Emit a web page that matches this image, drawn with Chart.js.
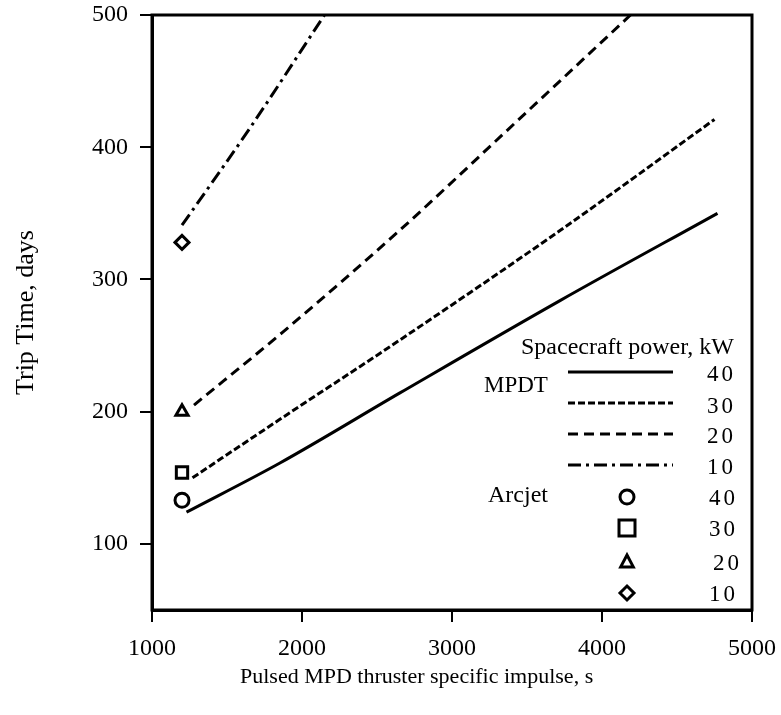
<!DOCTYPE html>
<html>
<head>
<meta charset="utf-8">
<style>
  body { margin: 0; background: #fff; }
</style>
</head>
<body>
<canvas id="myChart" width="781" height="715"></canvas>
<script src="https://cdn.jsdelivr.net/npm/chart.js"></script>
<script>
    // values
    const xTicks = [1000, 2000, 3000, 4000, 5000];
    const yTicks = [100, 200, 300, 400, 500];

    const isp40 = [1230, 1850, 2650, 3720, 4770];
    const days40 = [124, 161, 214, 284, 350];
    const isp30 = [1270, 1850, 2650, 3720, 4750];
    const days30 = [150, 194, 254, 337, 421];
    const isp20 = [1280, 1870, 2650, 3370, 4190];
    const days20 = [205, 260, 337, 413, 500];
    const isp10 = [1200, 1650, 2150];
    const days10 = [341, 414, 500];

    const powers = [40, 30, 20, 10];
    const arcIsp = [1200, 1200, 1200, 1200];
    const arcDays = [133, 154, 200, 328];

    const dashes = [[], [7, 3], [10, 6], [13, 5, 3, 5]];
    const marks = ['circle', 'rect', 'triangle', 'rectRot'];
    const serif = "'Liberation Serif', 'Times New Roman', serif";

    function pts(xs, ys) {
        return xs.map((x, i) => ({x: x, y: ys[i]}));
    }

    const curves = [[isp40, days40], [isp30, days30], [isp20, days20], [isp10, days10]];
    let datasets = [];
    curves.forEach((c, i) => {
        datasets.push({
            label: 'MPDT ' + powers[i] + ' kW',
            data: pts(c[0], c[1]),
            showLine: true,
            borderColor: '#000',
            borderWidth: 3,
            borderDash: dashes[i],
            pointRadius: 0,
            cubicInterpolationMode: 'monotone'
        });
    });
    arcIsp.forEach((x, i) => {
        datasets.push({
            label: 'Arcjet ' + powers[i] + ' kW',
            data: [{x: x, y: arcDays[i]}],
            pointStyle: marks[i],
            pointRadius: i == 1 ? 8 : 7,
            borderWidth: 3,
            borderColor: '#000',
            backgroundColor: '#fff'
        });
    });

    function drawMark(ctx, style, x, y, r) {
        ctx.beginPath();
        if (style == 'circle') {
            ctx.arc(x, y, r, 0, Math.PI * 2);
        } else if (style == 'rect') {
            ctx.rect(x - r, y - r, 2 * r, 2 * r);
        } else if (style == 'triangle') {
            ctx.moveTo(x, y - r);
            ctx.lineTo(x + r * 0.9, y + r * 0.7);
            ctx.lineTo(x - r * 0.9, y + r * 0.7);
            ctx.closePath();
        } else {
            ctx.moveTo(x, y - r);
            ctx.lineTo(x + r, y);
            ctx.lineTo(x, y + r);
            ctx.lineTo(x - r, y);
            ctx.closePath();
        }
        ctx.stroke();
    }

    // no extra room for label overhang, the layout padding decides the box
    function noPad(s) {
        s.paddingTop = 0;
        s.paddingBottom = 0;
        s.paddingLeft = 0;
        s.paddingRight = 0;
    }

    const boxAndLegend = {
        id: 'boxAndLegend',
        afterDraw(chart) {
            const ctx = chart.ctx;
            const a = chart.chartArea;
            ctx.save();
            ctx.strokeStyle = '#000';
            ctx.lineWidth = 3;
            ctx.setLineDash([]);
            ctx.strokeRect(a.left, a.top, a.right - a.left, a.bottom - a.top);

            ctx.fillStyle = '#000';
            ctx.textBaseline = 'middle';
            ctx.textAlign = 'left';
            ctx.font = '22px ' + serif;
            ctx.fillText('Pulsed MPD thruster specific impulse, s', 240, 677);
            ctx.font = '24px ' + serif;
            ctx.fillText('Spacecraft power, kW', 521, 348);
            ctx.fillText('Arcjet', 488, 496);
            ctx.font = '23px ' + serif;
            ctx.fillText('MPDT', 484, 386);

            const lineY = [372, 403, 434, 465];
            const markY = [497, 528, 562, 593];
            const numY = [375, 407, 437, 468];
            const numY2 = [499, 530, 564, 595];
            ctx.font = '23px ' + serif;
            ctx.letterSpacing = '3px';
            powers.forEach((p, i) => {
                ctx.lineWidth = 3;
                ctx.setLineDash(dashes[i]);
                ctx.beginPath();
                ctx.moveTo(568, lineY[i]);
                ctx.lineTo(673, lineY[i]);
                ctx.stroke();
                ctx.setLineDash([]);
                drawMark(ctx, marks[i], 627, markY[i], i == 1 ? 8 : 7);
                ctx.fillText(String(p), 707, numY[i]);
                ctx.fillText(String(p), i == 2 ? 713 : 709, numY2[i]);
            });
            ctx.restore();
        }
    };

    new Chart(document.getElementById('myChart'), {
        type: 'scatter',
        data: {datasets: datasets},
        options: {
            responsive: false,
            animation: false,
            layout: {padding: {top: 15, right: 29, left: 0, bottom: 0}},
            plugins: {legend: {display: false}, tooltip: {enabled: false}},
            scales: {
                x: {
                    type: 'linear',
                    min: 1000,
                    max: 5000,
                    afterBuildTicks: s => { s.ticks = xTicks.map(v => ({value: v})); },
                    afterFit: s => { s.height = 105; noPad(s); },
                    border: {color: '#000', width: 3},
                    grid: {drawOnChartArea: false, tickLength: 12, color: '#000', lineWidth: 2},
                    ticks: {color: '#000', padding: 12, maxRotation: 0, font: {family: serif, size: 24},
                        callback: v => String(v)},
                    title: {display: false}
                },
                y: {
                    type: 'linear',
                    min: 50,
                    max: 500,
                    afterBuildTicks: s => { s.ticks = yTicks.map(v => ({value: v})); },
                    afterFit: s => { s.width = 152; noPad(s); },
                    border: {color: '#000', width: 3},
                    grid: {drawOnChartArea: false, tickLength: 12, color: '#000', lineWidth: 2},
                    ticks: {color: '#000', padding: 12, font: {family: serif, size: 24},
                        callback: v => String(v)},
                    title: {display: true, text: 'Trip Time, days', color: '#000',
                        font: {family: serif, size: 26}, padding: {top: 11, bottom: 0}}
                }
            }
        },
        plugins: [boxAndLegend]
    });
</script>
</body>
</html>
